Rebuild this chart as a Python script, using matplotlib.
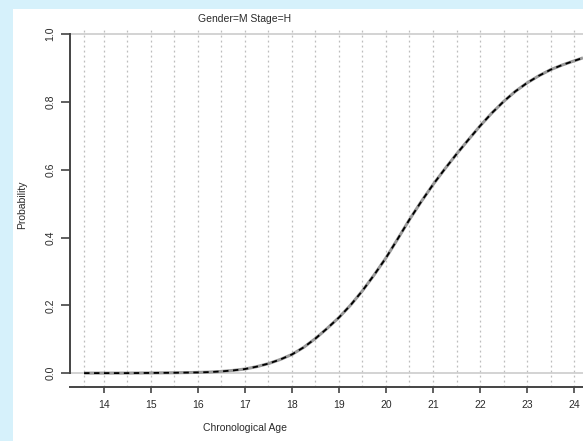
import numpy as np
import matplotlib.pyplot as plt
from matplotlib.patches import Rectangle

# values
age = [13.58, 14.0, 14.5, 15.0, 15.5, 16.0, 16.25, 16.5, 16.75, 17.0, 17.25, 17.5, 17.75,
       18.0, 18.25, 18.5, 18.75, 19.0, 19.25, 19.5, 19.75, 20.0, 20.25, 20.5, 20.75,
       21.0, 21.25, 21.5, 21.75, 22.0, 22.25, 22.5, 22.75, 23.0, 23.25, 23.5, 23.75,
       24.0, 24.19]
prob = [0.0, 0.0, 0.0, 0.0005, 0.001, 0.002, 0.003, 0.005, 0.008, 0.012, 0.019, 0.028, 0.040,
        0.055, 0.076, 0.102, 0.132, 0.164, 0.201, 0.243, 0.290, 0.340, 0.396, 0.453, 0.506,
        0.556, 0.602, 0.646, 0.688, 0.729, 0.767, 0.801, 0.831, 0.856, 0.877, 0.895, 0.909,
        0.921, 0.930]
x_ticks = [14, 15, 16, 17, 18, 19, 20, 21, 22, 23, 24]
y_ticks = [0.0, 0.2, 0.4, 0.6, 0.8, 1.0]
grid_x = [13.58] + list(np.arange(14, 24.01, 0.5))

W, H = 583, 441
plt.rcParams["font.family"] = ["Liberation Sans", "DejaVu Sans"]

fig = plt.figure(figsize=(W / 100, H / 100), dpi=100)
fig.patch.set_facecolor("#d6f1fb")
fig.patches.append(Rectangle((13 / W, 0), 1 - 13 / W, 1 - 9 / H, transform=fig.transFigure,
                             facecolor="white", edgecolor="none", zorder=-10))

ax = fig.add_axes([70 / W, 1 - 387 / H, 1 - 70 / W, (387 - 27) / H])
ax.set_facecolor("none")
ax.set_xlim(13.28, 24.19)
ax.set_ylim(-0.041, 1.021)

for gx in grid_x:
    ax.axvline(gx, color="#bdbdbd", lw=0.9, ls=(0, (1.5, 2.5)), zorder=1)
ax.axhline(0, color="#cccccc", lw=1.2, zorder=1)
ax.axhline(1, color="#cccccc", lw=1.2, zorder=1)

ax.plot(age, prob, color="#9a9a9a", lw=2.2, zorder=2, solid_capstyle="butt")
ax.plot(age, prob, color="black", lw=1.3, ls=(0, (3, 2.5)), zorder=3)

for s in ["top", "right"]:
    ax.spines[s].set_visible(False)
ax.spines["left"].set_bounds(0, 1)
ax.spines["left"].set_color("#444444")
ax.spines["bottom"].set_color("#444444")
ax.spines["left"].set_linewidth(1.4)
ax.spines["bottom"].set_linewidth(1.4)

ax.set_xticks(x_ticks)
ax.set_yticks(y_ticks)
ax.set_yticklabels(["%.1f" % v for v in y_ticks], rotation=90, va="center")
ax.tick_params(axis="y", length=6.5, width=1.2, color="#444444", pad=4, labelsize=7.5,
               labelcolor="#2a2a2a")
ax.tick_params(axis="x", length=4.5, width=1.2, color="#444444", pad=5, labelsize=7.5,
               labelcolor="#2a2a2a")

fig.text(245 / W, 1 - 19 / H, "Gender=M Stage=H", ha="center", va="center",
         fontsize=7.5, color="#2a2a2a")
fig.text(245 / W, 1 - 428 / H, "Chronological Age", ha="center", va="center",
         fontsize=7.5, color="#2a2a2a")
fig.text(22 / W, 1 - 205 / H, "Probability", ha="center", va="center", rotation=90,
         fontsize=7.5, color="#2a2a2a")

fig.savefig("out.png", dpi=100)
